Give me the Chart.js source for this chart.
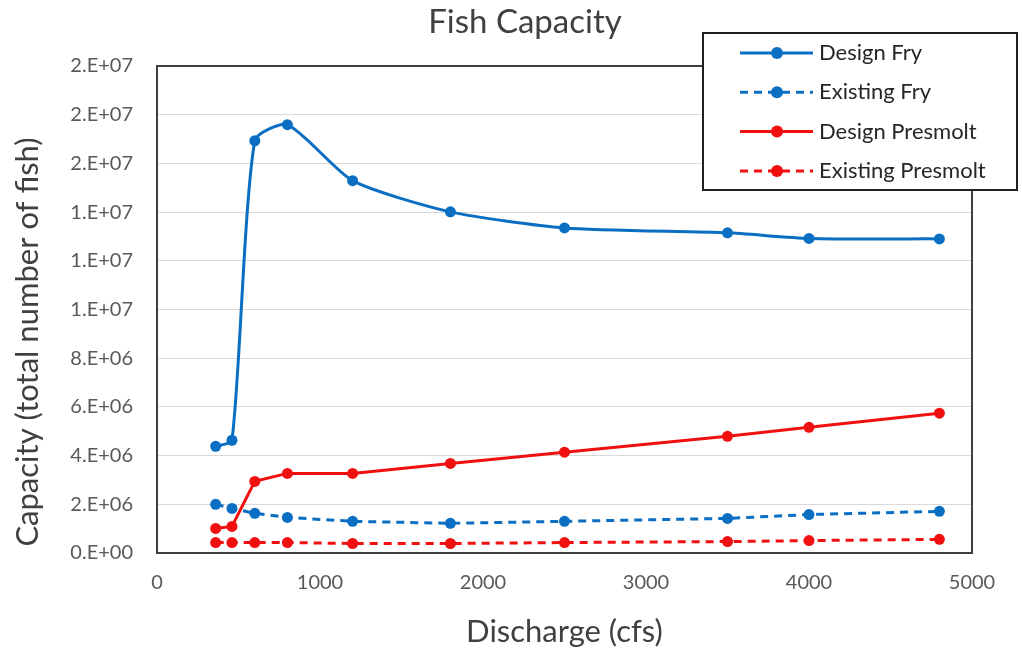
<!DOCTYPE html>
<html lang="en">
<head>
<meta charset="UTF-8">
<title>Fish Capacity</title>
<script src="https://cdn.jsdelivr.net/npm/chart.js"></script>
<style>
    body { margin: 0; background: #fff; }
    #wrap { width: 1022px; height: 648px; position: relative; }
</style>
</head>
<body>
<div id="wrap"><canvas id="fishChart"></canvas></div>
<script>
    // discharge (cfs) and capacities
    const discharge = [360, 460, 600, 800, 1200, 1800, 2500, 3500, 4000, 4800];
    const designFry = [4.38e6, 4.63e6, 16.93e6, 17.59e6, 15.29e6, 14.01e6, 13.35e6, 13.15e6, 12.92e6, 12.9e6];
    const existingFry = [2.0e6, 1.83e6, 1.63e6, 1.46e6, 1.3e6, 1.22e6, 1.3e6, 1.42e6, 1.58e6, 1.71e6];
    const designPresmolt = [1.01e6, 1.09e6, 2.94e6, 3.27e6, 3.27e6, 3.68e6, 4.14e6, 4.79e6, 5.16e6, 5.74e6];
    const existingPresmolt = [0.43e6, 0.43e6, 0.43e6, 0.43e6, 0.39e6, 0.39e6, 0.43e6, 0.47e6, 0.51e6, 0.56e6];
    // excel rounded the tick labels like this
    const yTickLabels = ['0.E+00', '2.E+06', '4.E+06', '6.E+06', '8.E+06', '1.E+07', '1.E+07', '1.E+07', '2.E+07', '2.E+07', '2.E+07'];

    const BLUE = '#0a6fc2';
    const RED = '#f01010';
    const FONT = 'Lato, "Open Sans", sans-serif';

    function pts(vals) {
        return vals.map((v, i) => ({ x: discharge[i], y: v }));
    }

    function series(label, vals, color, dashed, tension) {
        return {
            label: label,
            data: pts(vals),
            borderColor: color,
            backgroundColor: color,
            borderWidth: 3,
            borderDash: dashed ? [8, 6] : [],
            pointRadius: 5.5,
            pointBorderWidth: 0,
            pointBackgroundColor: color,
            tension: tension || 0
        };
    }

    const decor = {
        id: 'decor',
        beforeDatasetsDraw(chart) {
            const { ctx, chartArea: a } = chart;
            ctx.save();
            ctx.strokeStyle = '#404040';
            ctx.lineWidth = 2;
            ctx.strokeRect(a.left, a.top, a.right - a.left, a.bottom - a.top);
            ctx.restore();
        },
        afterDraw(chart) {
            const ctx = chart.ctx;
            ctx.save();
            // title
            ctx.fillStyle = '#404040';
            ctx.font = '33px ' + FONT;
            ctx.textAlign = 'center';
            ctx.textBaseline = 'middle';
            ctx.fillText('Fish Capacity', 525, 22);

            // y axis title
            ctx.save();
            ctx.translate(28, 342);
            ctx.rotate(-Math.PI / 2);
            ctx.fillStyle = '#404040';
            ctx.font = '31px ' + FONT;
            ctx.fillText('Capacity (total number of fish)', 0, 0);
            ctx.restore();

            // legend box
            ctx.fillStyle = '#fff';
            ctx.fillRect(703, 33, 314, 157);
            ctx.strokeStyle = '#202020';
            ctx.lineWidth = 2;
            ctx.strokeRect(703, 33, 314, 157);
            ctx.textAlign = 'left';
            ctx.font = '22px ' + FONT;
            chart.data.datasets.forEach((ds, i) => {
                const y = 53 + i * 39.3;
                ctx.strokeStyle = ds.borderColor;
                ctx.lineWidth = 3;
                ctx.setLineDash(ds.borderDash);
                ctx.beginPath();
                ctx.moveTo(740, y);
                ctx.lineTo(813, y);
                ctx.stroke();
                ctx.setLineDash([]);
                ctx.fillStyle = ds.borderColor;
                ctx.beginPath();
                ctx.arc(777, y, 6, 0, Math.PI * 2);
                ctx.fill();
                ctx.fillStyle = '#262626';
                ctx.fillText(ds.label, 819, y);
            });
            ctx.restore();
        }
    };

    new Chart(document.getElementById('fishChart'), {
        type: 'line',
        data: {
            datasets: [
                series('Design Fry', designFry, BLUE, false, 0.22),
                series('Existing Fry', existingFry, BLUE, true),
                series('Design Presmolt', designPresmolt, RED, false),
                series('Existing Presmolt', existingPresmolt, RED, true)
            ]
        },
        options: {
            responsive: true,
            maintainAspectRatio: false,
            animation: false,
            layout: { padding: { left: 0, right: 50, top: 66, bottom: 0 } },
            plugins: {
                legend: { display: false },
                title: { display: false },
                tooltip: { enabled: false }
            },
            scales: {
                x: {
                    type: 'linear',
                    min: 0,
                    max: 5000,
                    ticks: {
                        stepSize: 1000,
                        color: '#595959',
                        font: { family: FONT, size: 20 },
                        padding: 18,
                        callback: v => String(v)
                    },
                    grid: { display: false, drawTicks: false },
                    border: { display: false },
                    title: {
                        display: true,
                        text: 'Discharge (cfs)',
                        color: '#404040',
                        font: { family: FONT, size: 31, lineHeight: 1 },
                        padding: { top: 0, bottom: 1 }
                    },
                    afterFit: s => { s.height = 95; }
                },
                y: {
                    min: 0,
                    max: 2e7,
                    ticks: {
                        stepSize: 2e6,
                        color: '#595959',
                        font: { family: FONT, size: 20 },
                        padding: 24,
                        callback: (v, i) => yTickLabels[i]
                    },
                    grid: { color: '#d9d9d9', lineWidth: 1, drawTicks: false },
                    border: { display: false },
                    afterFit: s => { s.width = 157; }
                }
            }
        },
        plugins: [decor]
    });
</script>
</body>
</html>
